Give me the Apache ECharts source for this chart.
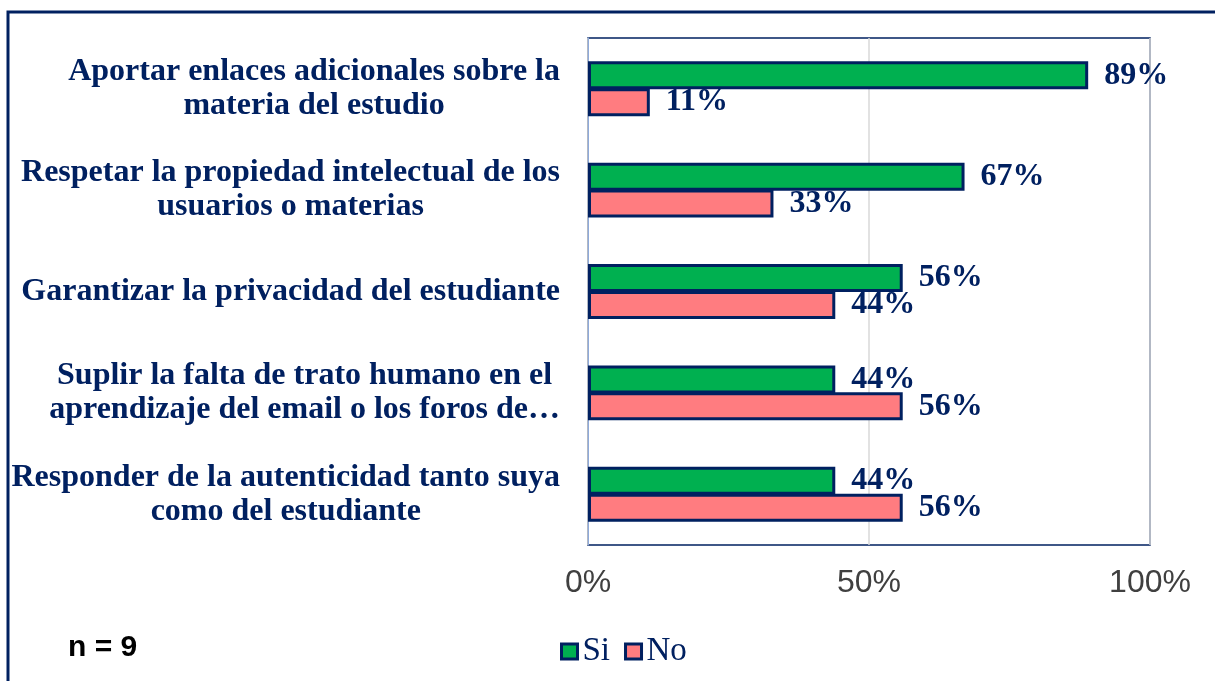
<!DOCTYPE html>
<html>
<head>
<meta charset="utf-8">
<script src="https://cdn.jsdelivr.net/npm/echarts@6/dist/echarts.min.js"></script>
<style>
  html, body { margin: 0; padding: 0; background: #fff; }
  #chart { width: 1215px; height: 681px; }
</style>
</head>
<body>
<div id="chart"></div>
<script>
// datos de la encuesta
const categories = [
  'Aportar enlaces adicionales sobre la\nmateria del estudio',
  'Respetar la propiedad intelectual de los\nusuarios o materias',
  'Garantizar la privacidad del estudiante',
  'Suplir la falta de trato humano en el\naprendizaje del email o los foros de…',
  'Responder de la autenticidad tanto suya\ncomo del estudiante'
]
const siValues = [89, 67, 56, 44, 44]
const noValues = [11, 33, 44, 56, 56]
const seriesNames = ['Si', 'No']
const sampleNote = 'n = 9'

const navy = '#002060'
const serif = '"Liberation Serif", "Times New Roman", serif'

const chart = echarts.init(document.getElementById('chart'))

const barLabel = {
  show: true,
  position: 'right',
  distance: 16,
  formatter: '{c}%',
  color: navy,
  fontFamily: serif,
  fontWeight: 'bold',
  fontSize: 32
}

chart.setOption({
  animation: false,
  grid: {
    left: 588,
    right: 65,
    top: 38,
    bottom: 136,
    show: true,
    borderColor: navy,
    borderWidth: 1.5
  },
  legend: {
    data: seriesNames,
    left: 555,
    top: 630,
    icon: 'rect',
    itemWidth: 16,
    itemHeight: 15,
    itemGap: 14,
    itemStyle: { borderColor: navy, borderWidth: 3 },
    textStyle: {
      color: navy,
      fontFamily: serif,
      fontSize: 33,
      padding: [0, 0, 0, 0]
    }
  },
  xAxis: {
    type: 'value',
    min: 0,
    max: 100,
    interval: 50,
    axisLine: { show: false },
    axisTick: { show: false },
    splitLine: { lineStyle: { color: '#d9d9d9', width: 1.5 } },
    axisLabel: {
      formatter: '{value}%',
      color: '#404040',
      fontFamily: '"Liberation Sans", Arial, sans-serif',
      fontSize: 32,
      margin: 22
    }
  },
  yAxis: {
    type: 'category',
    data: categories,
    inverse: true,
    axisLine: { show: true, lineStyle: { color: '#8eaadb', width: 1 } },
    axisTick: { show: false },
    axisLabel: {
      margin: 28,
      align: 'right',
      formatter: function (v) {
        return v.split('\n').map(function (l) { return '{c|' + l + '}' }).join('\n')
      },
      rich: {
        c: {
          align: 'center',
          color: navy,
          fontFamily: serif,
          fontWeight: 'bold',
          fontSize: 32,
          lineHeight: 34
        }
      }
    }
  },
  series: [
    {
      name: seriesNames[0],
      type: 'bar',
      data: siValues,
      barWidth: 28,
      barGap: '-4%',
      itemStyle: { color: '#00B050', borderColor: navy, borderWidth: 3 },
      label: barLabel
    },
    {
      name: seriesNames[1],
      type: 'bar',
      data: noValues,
      barWidth: 28,
      itemStyle: { color: '#FF7C80', borderColor: navy, borderWidth: 3 },
      label: barLabel
    }
  ],
  graphic: [
    {
      type: 'rect',
      shape: { x: 8, y: 12, width: 1240, height: 700 },
      style: { fill: 'none', stroke: navy, lineWidth: 3 },
      silent: true
    },
    {
      type: 'text',
      left: 68,
      top: 633,
      style: {
        text: sampleNote,
        fill: '#000',
        font: 'bold 30px "Liberation Sans", Arial, sans-serif'
      }
    }
  ]
})
</script>
</body>
</html>
